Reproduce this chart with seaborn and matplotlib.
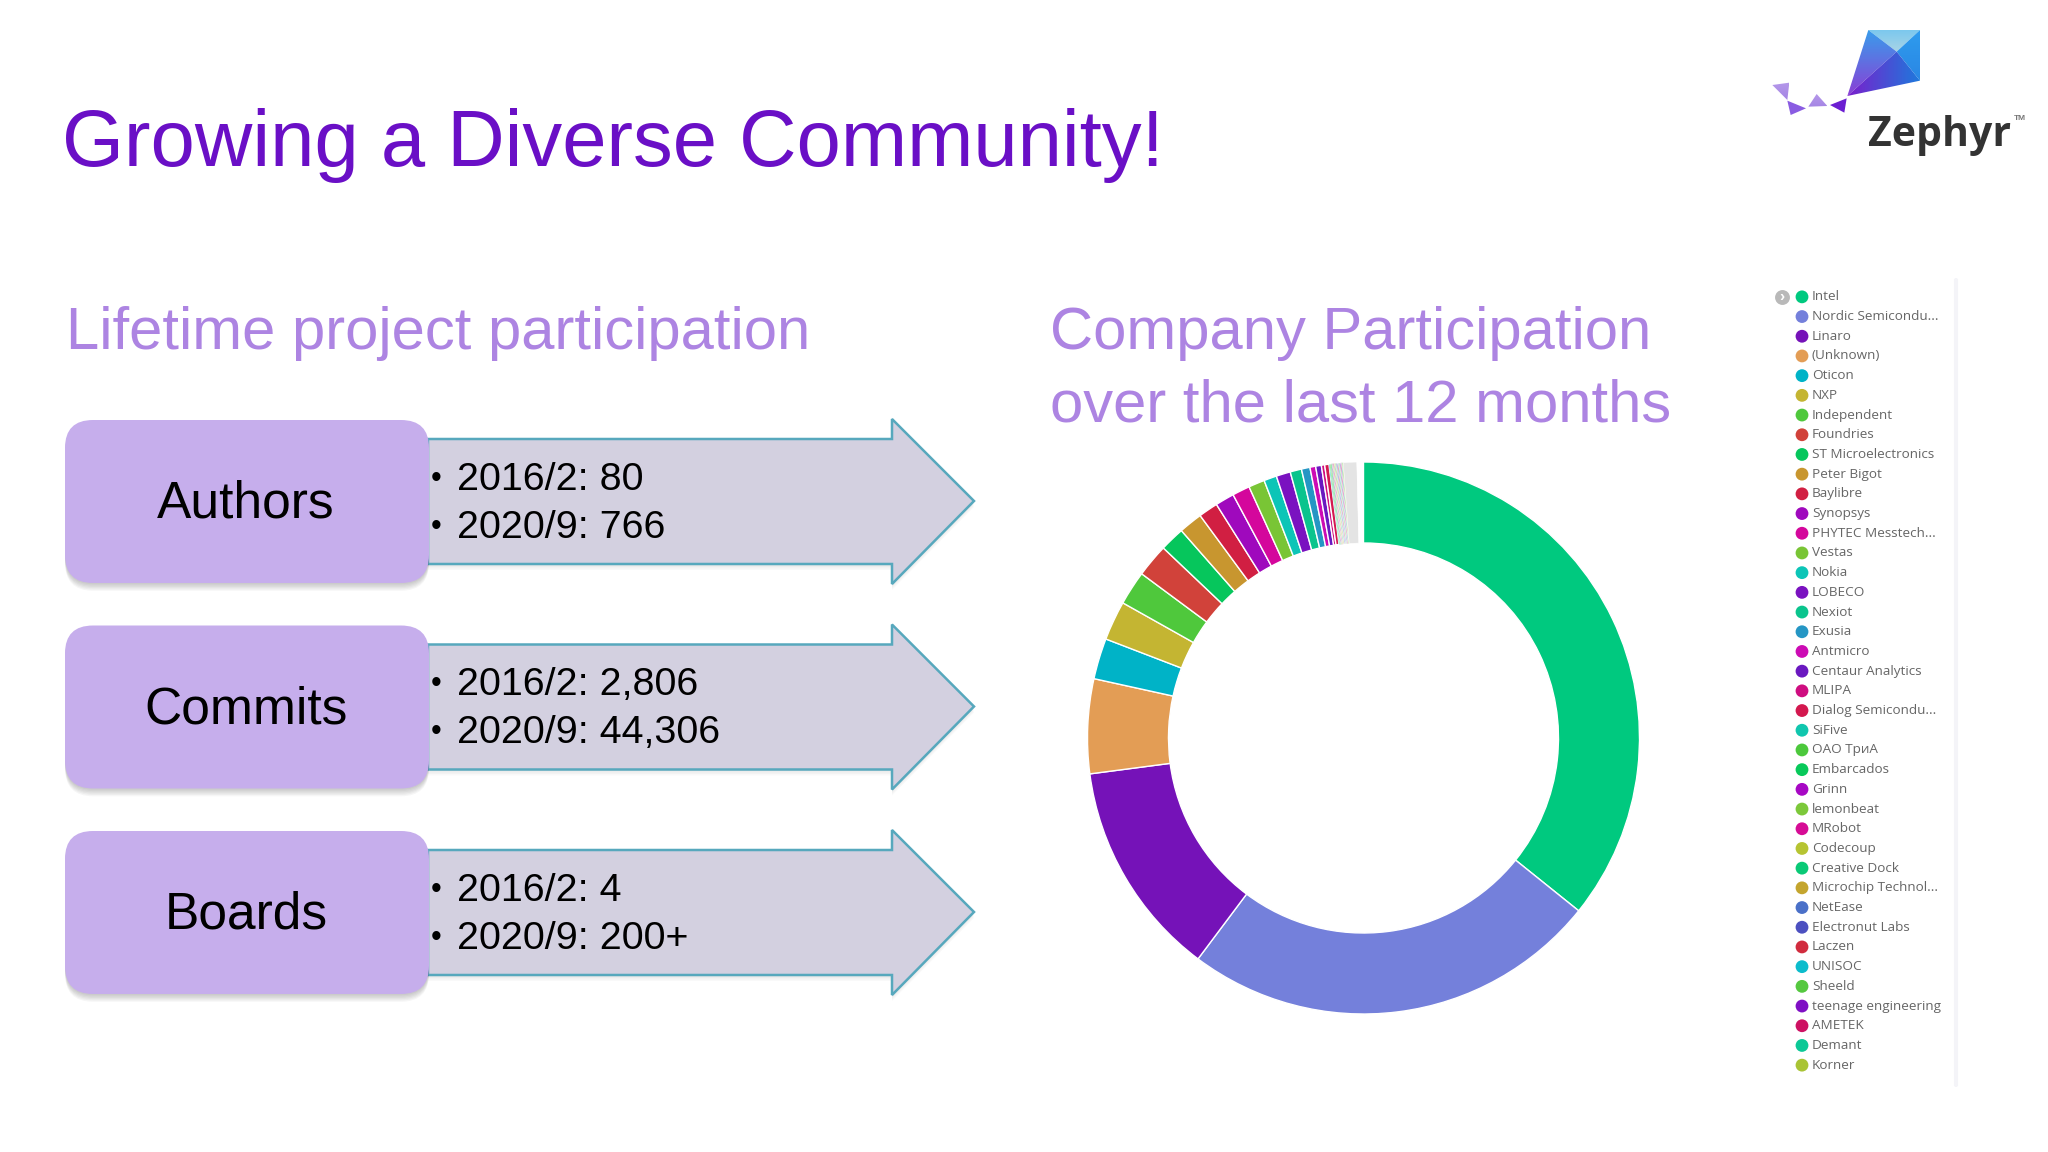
import numpy as np
import pandas as pd
import matplotlib
matplotlib.use('Agg')
import matplotlib.pyplot as plt
import seaborn as sns
from matplotlib.colors import LinearSegmentedColormap
from matplotlib.patches import FancyBboxPatch, Polygon

title = 'Growing a Diverse Community!'
left_heading = 'Lifetime project participation'
right_heading = ['Company Participation', 'over the last 12 months']

metrics = ['Authors', 'Commits', 'Boards']
values_2016 = ['80', '2,806', '4']
values_2020 = ['766', '44,306', '200+']

companies = ['Intel', 'Nordic Semicondu...', 'Linaro', '(Unknown)', 'Oticon', 'NXP', 'Independent',
             'Foundries', 'ST Microelectronics', 'Peter Bigot', 'Baylibre', 'Synopsys', 'PHYTEC Messtech...',
             'Vestas', 'Nokia', 'LOBECO', 'Nexiot', 'Exusia', 'Antmicro', 'Centaur Analytics', 'MLIPA',
             'Dialog Semicondu...', 'SiFive', 'OAO ТриА', 'Embarcados', 'Grinn', 'lemonbeat', 'MRobot',
             'Codecoup', 'Creative Dock', 'Microchip Technol...', 'NetEase', 'Electronut Labs', 'Laczen',
             'UNISOC', 'Sheeld', 'teenage engineering', 'AMETEK', 'Demant', 'Korner']
# share of the ring
shares = [128.8, 88.1, 45.7, 19.9, 8.6, 8.3, 7.2, 7.0, 5.2, 5.0, 4.1, 4.0, 3.7, 3.4, 2.7, 3.0, 2.4, 1.8, 1.2,
          1.2, 0.7, 0.9, 0.2, 0.2, 0.2, 0.16, 0.16, 0.16, 0.16, 0.16, 0.16, 0.16, 0.16, 0.16, 0.16, 0.16,
          0.16, 0.16, 0.16, 0.16]
colors = ['#00c97f', '#7480db', '#7512b8', '#e39d55', '#00b3c7', '#c4b532', '#4fc83c', '#d1423a', '#06c65c',
          '#c8962f', '#d11f42', '#9f09bd', '#d4079c', '#79c535', '#0cc5b7', '#7a12c0', '#0ac48d', '#2596c4',
          '#cc0bb4', '#6a18c0', '#cf0d80', '#d3184f', '#10c6ae', '#4cc83c', '#08c95a', '#a708c4', '#7cc83a',
          '#d60c95', '#b6c432', '#0ac976', '#c4a52e', '#4a70c8', '#4c50c0', '#d12c3e', '#0cbccc', '#55c840',
          '#7f0fc4', '#cd1162', '#0cc896', '#a9c435']
# companies past the end of the list fade to grey in the ring, then a small gap before Intel
rest_shares = [2.8, 1.4]
rest_colors = ['#e4e4e4', '#ffffff']

sns.set_theme(style='white')
plt.rcParams['font.family'] = ['Liberation Sans', 'DejaVu Sans']

fig = plt.figure(figsize=(20.48, 11.52), dpi=100, facecolor='white')
W, H = 2048, 1152

# whole slide in pixel coordinates
ax = fig.add_axes([0, 0, 1, 1])
ax.set_xlim(0, W)
ax.set_ylim(H, 0)
ax.axis('off')

PURPLE = '#6a0fc6'
LILAC = '#ad84e2'
ax.text(62, 166, title, fontsize=57.3, color=PURPLE, va='baseline')
ax.text(66, 349, left_heading, fontsize=43, color=LILAC, va='baseline')
ax.text(1050, 349, right_heading[0], fontsize=43, color=LILAC, va='baseline')
ax.text(1050, 421, right_heading[1], fontsize=43, color=LILAC, va='baseline')

# left side: one box and arrow per metric
for i, metric in enumerate(metrics):
  dy = 205.5 * i
  arrow = [(428, 439), (892, 439), (892, 419), (974, 501), (892, 584), (892, 564), (428, 564)]
  arrow = [(x, y + dy) for x, y in arrow]
  for k in range(1, 5):
    ax.add_patch(Polygon([(x, y + k * 1.5) for x, y in arrow], closed=True, fc='black', ec='none', alpha=0.025))
  ax.add_patch(Polygon(arrow, closed=True, fc='#d3d0e0', ec='#57a8bd', lw=1.8))
  for k in range(1, 7):
    ax.add_patch(FancyBboxPatch((65, 420 + dy + k * 1.3), 364, 163, boxstyle='round,pad=0,rounding_size=28',
                                fc='black', ec='none', alpha=0.035))
  ax.add_patch(FancyBboxPatch((65, 420 + dy), 364, 163, boxstyle='round,pad=0,rounding_size=28',
                              fc='#c6aeec', ec='none'))
  ax.text(246, 504 + dy, metric, fontsize=37.1, color='black', ha='center', va='center')
  ax.text(431, 479 + dy, '•', fontsize=22, color='black', va='center')
  ax.text(431, 527 + dy, '•', fontsize=22, color='black', va='center')
  ax.text(457, 480 + dy, '2016/2: ' + values_2016[i], fontsize=28.4, color='black', va='center')
  ax.text(457, 528 + dy, '2020/9: ' + values_2020[i], fontsize=28.4, color='black', va='center')

# ring
cx, cy, R, r = 1363.5, 738, 276, 195
ax_ring = fig.add_axes([(cx - R) / W, 1 - (cy + R) / H, 2 * R / W, 2 * R / H])
palette = sns.color_palette(colors)
wedges, _ = ax_ring.pie(shares + rest_shares, colors=list(palette) + rest_colors, startangle=90, counterclock=False,
                        radius=1, wedgeprops=dict(width=(R - r) / R, edgecolor='white', linewidth=1.0, clip_on=False))
for w in wedges[22:-1]:
  w.set_linewidth(0.3)
wedges[-1].set_linewidth(0)
ax_ring.set_xlim(-1, 1)
ax_ring.set_ylim(-1, 1)

# legend list, one row per company
legend = pd.DataFrame({'company': companies, 'rank': range(len(companies))})
legend['x'] = 1802
ax_leg = fig.add_axes([1760 / W, 1 - 1075 / H, 200 / W, 788 / H])
sns.scatterplot(data=legend, x='x', y='rank', hue='company', palette=colors, legend=False, s=85, linewidth=0, ax=ax_leg)
ax_leg.set_xlim(1760, 1960)
ax_leg.set_ylim(len(companies) - 0.5, -0.5)
ax_leg.axis('off')
for i, name in enumerate(companies):
  ax_leg.text(1812, i, name, fontsize=9.7, color='#666666', va='center', family=['Open Sans', 'DejaVu Sans'])
ax_leg.scatter([1782], [0], s=115, color='#b9b9b9', linewidth=0)
ax_leg.text(1782, 0, '›', fontsize=11, color='white', ha='center', va='center', fontweight='bold')
ax.plot([1956, 1956], [280, 1085], color='#f4f4f8', lw=3)

def logo_pt(x, y):
  return (1750 + x / 3, 10 + y / 3)

def gradient_poly(pts, c0, c1, vertical=True):
  pts = [logo_pt(*p) for p in pts]
  xs = [p[0] for p in pts]
  ys = [p[1] for p in pts]
  grad = np.linspace(0, 1, 64).reshape(-1, 1)
  if not vertical:
    grad = grad.T
  cmap = LinearSegmentedColormap.from_list('facet', [c0, c1])
  im = ax.imshow(grad, cmap=cmap, extent=(min(xs), max(xs), max(ys), min(ys)), aspect='auto', zorder=3)
  poly = Polygon(pts, closed=True, transform=ax.transData, fc='none', ec='none')
  ax.add_patch(poly)
  im.set_clip_path(poly)

gradient_poly([(355, 60), (510, 60), (440, 125)], '#7cc8ee', '#a8d4e6')
gradient_poly([(510, 60), (510, 212), (440, 125)], '#2e9cee', '#2a86e4')
gradient_poly([(355, 60), (440, 125), (292, 258)], '#3a9ceb', '#8a3fd6')
gradient_poly([(292, 258), (440, 125), (510, 212)], '#7a1fcc', '#1f78dc', vertical=False)
gradient_poly([(67, 225), (118, 218), (112, 270)], '#b598ea', '#a585e4')
gradient_poly([(112, 272), (168, 295), (122, 315)], '#8a5ce2', '#8a5ce2')
gradient_poly([(175, 290), (200, 252), (232, 288)], '#b598ea', '#a585e4')
gradient_poly([(240, 285), (290, 265), (283, 308)], '#6c1fd2', '#6c1fd2')
ax.set_xlim(0, W)
ax.set_ylim(H, 0)
ax.text(1868, 146, 'Zephyr', fontsize=29.5, fontweight='bold', color='#333333', va='baseline',
        family=['Open Sans', 'DejaVu Sans'])
ax.text(2014, 120, 'TM', fontsize=6, color='#777777', va='baseline', fontweight='bold')

fig.savefig('out.png', dpi=100, facecolor='white')
